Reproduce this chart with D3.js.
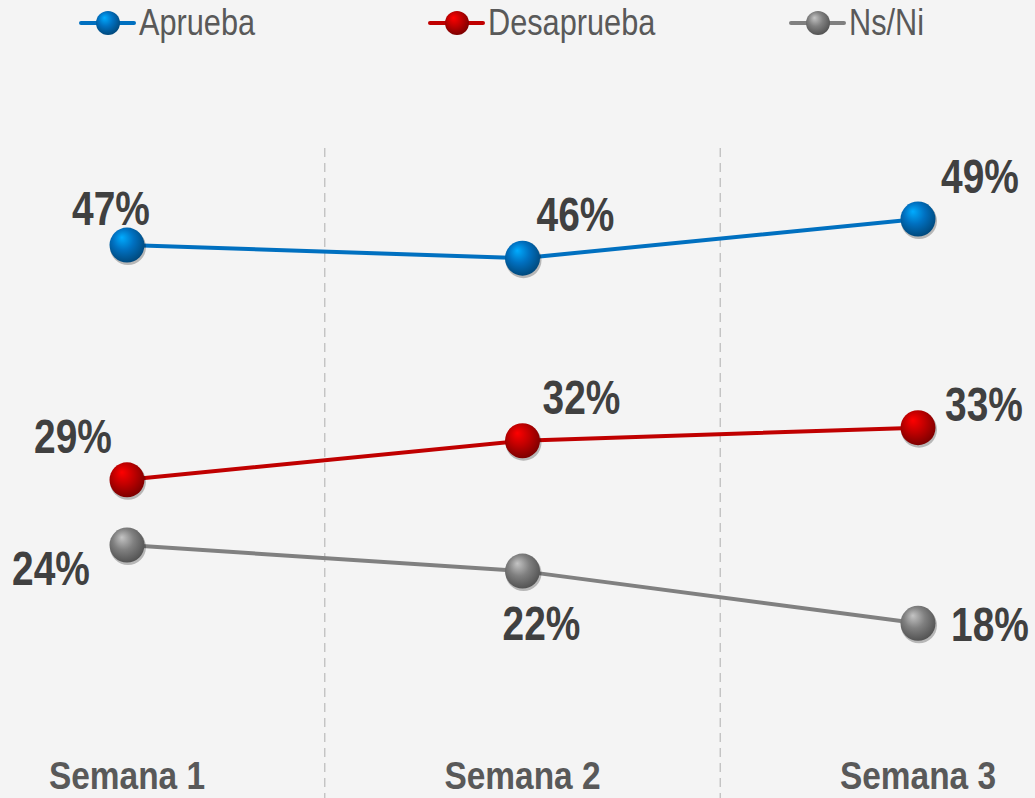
<!DOCTYPE html>
<html lang="es">
<head>
<meta charset="UTF-8">
<title>Aprueba / Desaprueba</title>
<script src="https://cdn.jsdelivr.net/npm/d3@7"></script>
<style>
    body { margin: 0; background: #f4f4f4; }
    .lbl { font-family: "Liberation Sans Narrow", "Arial Narrow", "Liberation Sans", Arial, sans-serif; font-weight: bold; fill: #404040; text-anchor: middle; }
    .cat { font-family: "Liberation Sans Narrow", "Arial Narrow", "Liberation Sans", Arial, sans-serif; font-weight: bold; fill: #595959; text-anchor: middle; }
    .leg { font-family: "Liberation Sans Narrow", "Arial Narrow", "Liberation Sans", Arial, sans-serif; fill: #595959; }
</style>
</head>
<body>
<script>
    var categories = ['Semana 1', 'Semana 2', 'Semana 3'];
    var seriesNames = ['Aprueba', 'Desaprueba', 'Ns/Ni'];
    var aprueba = [47, 46, 49];
    var desaprueba = [29, 32, 33];
    var nsni = [24, 22, 18];

    var colors = ['#0070c0', '#c00000', '#808080'];
    var values = [aprueba, desaprueba, nsni];
    // label offset from the point, per series/week
    var labelOff = [
        [[-16, -20], [53, -27], [62, -26]],
        [[-54, -27], [59, -27], [66, -7]],
        [[-76, 40], [19, 69], [72, 18]]
    ];

    var width = 1035, height = 798;
    var narrow = 0.81; // no narrow font installed, squeeze instead

    var svg = d3.select('body').append('svg')
        .attr('width', width)
        .attr('height', height)

    svg.append('rect').attr('width', width).attr('height', height).attr('fill', '#f4f4f4')

    var defs = svg.append('defs')
    colors.forEach(function (c, i) {
        var g = defs.append('radialGradient')
            .attr('id', 'ball' + i)
            .attr('cx', '45%').attr('cy', '40%').attr('r', '60%')
            .attr('fx', '35%').attr('fy', '28%')
        g.append('stop').attr('offset', '0%').attr('stop-color', d3.color(c).brighter(1.2))
        g.append('stop').attr('offset', '50%').attr('stop-color', c)
        g.append('stop').attr('offset', '100%').attr('stop-color', d3.color(c).darker(1.2))
    })

    var xScale = d3.scalePoint()
        .domain(categories)
        .range([127, 918])

    var step = xScale.step()

    var yScale = d3.scaleLinear()
        .domain([0, 60])
        .range([858, 75.6])

    // dashed separators between weeks
    svg.selectAll('.sep')
        .data(categories.slice(1))
        .enter()
        .append('line')
        .attr('x1', function (d) { return xScale(d) - step / 2 })
        .attr('x2', function (d) { return xScale(d) - step / 2 })
        .attr('y1', 148)
        .attr('y2', height)
        .attr('stroke', '#bfbfbf')
        .attr('stroke-width', 1.3)
        .attr('stroke-dasharray', '9,6')

    var line = d3.line()
        .x(function (d, i) { return xScale(categories[i]) })
        .y(function (d) { return yScale(d) })

    values.forEach(function (vals, s) {
        svg.append('path')
            .attr('d', line(vals))
            .attr('fill', 'none')
            .attr('stroke', colors[s])
            .attr('stroke-width', 4)

        svg.selectAll('.dot' + s)
            .data(vals)
            .enter()
            .append('circle')
            .attr('cx', function (d, i) { return xScale(categories[i]) + 1 })
            .attr('cy', function (d) { return yScale(d) + 2 })
            .attr('r', 18)
            .attr('fill', 'rgba(0,0,0,0.25)')

        svg.selectAll('.ball' + s)
            .data(vals)
            .enter()
            .append('circle')
            .attr('cx', function (d, i) { return xScale(categories[i]) })
            .attr('cy', function (d) { return yScale(d) })
            .attr('r', 17.5)
            .attr('fill', 'url(#ball' + s + ')')

        svg.selectAll('.lbl' + s)
            .data(vals)
            .enter()
            .append('text')
            .attr('class', 'lbl')
            .attr('transform', function (d, i) {
                var x = xScale(categories[i]) + labelOff[s][i][0]
                var y = yScale(d) + labelOff[s][i][1]
                return 'translate(' + x + ',' + y + ') scale(' + narrow + ',1)'
            })
            .style('font-size', '48px')
            .text(function (d) { return d + '%' })
    })

    svg.selectAll('.cat')
        .data(categories)
        .enter()
        .append('text')
        .attr('class', 'cat')
        .attr('transform', function (d) {
            return 'translate(' + xScale(d) + ',789) scale(0.88,1)'
        })
        .style('font-size', '38px')
        .text(function (d) { return d })

    // legend
    var legX = [81, 430, 791];
    var leg = svg.selectAll('.legItem')
        .data(seriesNames)
        .enter()
        .append('g')
        .attr('transform', function (d, i) { return 'translate(' + legX[i] + ',23)' })

    leg.append('line')
        .attr('x1', 0).attr('x2', 53)
        .attr('stroke', function (d, i) { return colors[i] })
        .attr('stroke-width', 4)
        .attr('stroke-linecap', 'round')
    leg.append('circle')
        .attr('cx', 27).attr('r', 12)
        .attr('fill', function (d, i) { return 'url(#ball' + i + ')' })
    leg.append('text')
        .attr('class', 'leg')
        .attr('transform', 'translate(58,12) scale(0.83,1)')
        .style('font-size', '37px')
        .text(function (d) { return d })
</script>
</body>
</html>
